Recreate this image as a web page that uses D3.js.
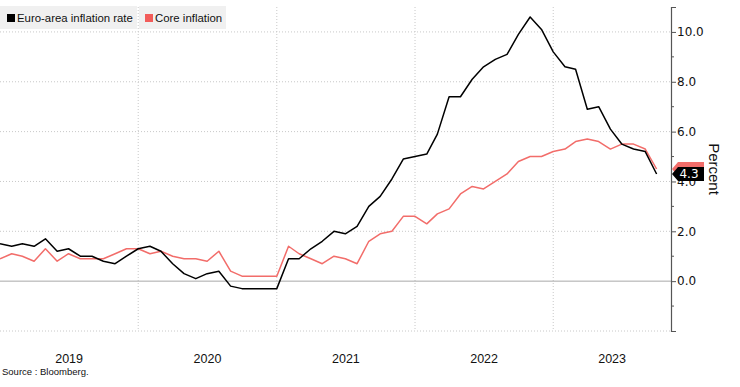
<!DOCTYPE html>
<html>
<head>
<meta charset="utf-8">
<script src="https://cdn.jsdelivr.net/npm/d3@7"></script>
<style>
  body { margin: 0; background: #fff; }
  svg { display: block; }
</style>
</head>
<body>
<div id="chart"></div>
<script>
// monthly readings, Dec 2018 .. Sep 2023
const startYear = 2018;
const startMonth = 11; // December (0-based)
const headline = [
  1.5,
  1.4, 1.5, 1.4, 1.7, 1.2, 1.3, 1.0, 1.0, 0.8, 0.7, 1.0, 1.3,
  1.4, 1.2, 0.7, 0.3, 0.1, 0.3, 0.4, -0.2, -0.3, -0.3, -0.3, -0.3,
  0.9, 0.9, 1.3, 1.6, 2.0, 1.9, 2.2, 3.0, 3.4, 4.1, 4.9, 5.0,
  5.1, 5.9, 7.4, 7.4, 8.1, 8.6, 8.9, 9.1, 9.9, 10.6, 10.1, 9.2,
  8.6, 8.5, 6.9, 7.0, 6.1, 5.5, 5.3, 5.2, 4.3
];
const core = [
  0.9,
  1.1, 1.0, 0.8, 1.3, 0.8, 1.1, 0.9, 0.9, 0.9, 1.1, 1.3, 1.3,
  1.1, 1.2, 1.0, 0.9, 0.9, 0.8, 1.2, 0.4, 0.2, 0.2, 0.2, 0.2,
  1.4, 1.1, 0.9, 0.7, 1.0, 0.9, 0.7, 1.6, 1.9, 2.0, 2.6, 2.6,
  2.3, 2.7, 2.9, 3.5, 3.8, 3.7, 4.0, 4.3, 4.8, 5.0, 5.0, 5.2,
  5.3, 5.6, 5.7, 5.6, 5.3, 5.5, 5.5, 5.3, 4.5
];
const years = [2019, 2020, 2021, 2022, 2023];
const yTicks = [-2, 0, 2, 4, 6, 8, 10];
const yMinor = [-1, 1, 3, 5, 7, 9];
const seriesNames = ['Euro-area inflation rate', 'Core inflation'];
const colors = ['#000000', '#f26d6a'];

const width = 740, height = 387;
const plotLeft = 0, plotRight = 671, plotTop = 7, plotBottom = 331;

const svg = d3.select('#chart').append('svg')
  .attr('width', width)
  .attr('height', height);

// each reading sits at the end of its month
const dateOf = i => new Date(startYear, startMonth + i + 1, 1);

const x = d3.scaleTime()
  .domain([new Date(2019, 0, 1), new Date(2023, 10, 8)])
  .range([plotLeft, plotRight]);

const y = d3.scaleLinear()
  .domain([-2, 11])
  .range([plotBottom, plotTop]);

// grid
const grid = svg.append('g');
grid.selectAll('line.h')
  .data(yTicks.filter(v => v !== 0))
  .enter().append('line')
  .attr('x1', plotLeft).attr('x2', plotRight)
  .attr('y1', d => y(d)).attr('y2', d => y(d))
  .attr('stroke', '#c8c8c8')
  .attr('stroke-dasharray', '1,2');

grid.selectAll('line.v')
  .data(years.slice(1))
  .enter().append('line')
  .attr('x1', d => x(new Date(d, 0, 1))).attr('x2', d => x(new Date(d, 0, 1)))
  .attr('y1', plotTop).attr('y2', plotBottom)
  .attr('stroke', '#c8c8c8')
  .attr('stroke-dasharray', '1,2');

grid.append('line')
  .attr('x1', plotLeft).attr('x2', plotRight)
  .attr('y1', y(0)).attr('y2', y(0))
  .attr('stroke', '#a8a8a8')
  .attr('stroke-width', 1);

// lines
const line = d3.line()
  .x((d, i) => x(dateOf(i)))
  .y(d => y(d));

[core, headline].forEach((s, k) => {
  svg.append('path')
    .datum(s)
    .attr('fill', 'none')
    .attr('stroke', k === 0 ? colors[1] : colors[0])
    .attr('stroke-width', 1.5)
    .attr('stroke-linejoin', 'round')
    .attr('d', line);
});

// right axis
const axis = d3.axisRight(y)
  .tickValues(yTicks)
  .tickSize(5)
  .tickFormat(d => d >= 0 ? d3.format('.1f')(d) : '');

const ax = svg.append('g')
  .attr('transform', `translate(${plotRight},0)`)
  .call(axis);
ax.select('.domain').attr('stroke', '#555').attr('stroke-width', 1.2);
ax.selectAll('.tick line').attr('stroke', '#555');
ax.selectAll('.tick text')
  .attr('x', 6)
  .attr('fill', '#111')
  .attr('font-family', 'DejaVu Sans, sans-serif')
  .attr('font-size', 12);

ax.selectAll('line.minor')
  .data(yMinor)
  .enter().append('line')
  .attr('x1', 0).attr('x2', 3)
  .attr('y1', d => y(d)).attr('y2', d => y(d))
  .attr('stroke', '#555');

svg.append('text')
  .attr('transform', `translate(709,${y(4.5)}) rotate(90)`)
  .attr('text-anchor', 'middle')
  .attr('font-family', 'Liberation Sans, Arial, sans-serif')
  .attr('font-size', 15)
  .attr('fill', '#111')
  .text('Percent');

// last value tags (the core tag sits behind, only its edge shows)
const lastTags = [
  { v: core[core.length - 1], c: colors[1], label: false },
  { v: headline[headline.length - 1], c: colors[0], label: true }
];
lastTags.forEach(t => {
  const cy = y(t.v);
  svg.append('path')
    .attr('d', `M${plotRight + 1},${cy} L${plotRight + 7},${cy - 7} L${704},${cy - 7} L${704},${cy + 7} L${plotRight + 7},${cy + 7} Z`)
    .attr('fill', t.c);
  if (t.label) {
    svg.append('text')
      .attr('x', 689)
      .attr('y', cy)
      .attr('dy', '0.36em')
      .attr('text-anchor', 'middle')
      .attr('font-family', 'DejaVu Sans, sans-serif')
      .attr('font-size', 12)
      .attr('fill', '#fff')
      .text(t.v.toFixed(1));
  }
});

// year labels, centred on the visible part of each year
svg.append('g')
  .selectAll('text')
  .data(years)
  .enter().append('text')
  .attr('x', d => {
    const a = Math.max(x(new Date(d, 0, 1)), plotLeft);
    const b = Math.min(x(new Date(d + 1, 0, 1)), plotRight);
    return (a + b) / 2;
  })
  .attr('y', 363)
  .attr('text-anchor', 'middle')
  .attr('font-family', 'Liberation Sans, Arial, sans-serif')
  .attr('font-size', 12.5)
  .attr('fill', '#111')
  .text(d => d);

// legend
const legend = svg.append('g');
const legendBoxes = [{ x: 0, w: 137 }, { x: 139, w: 87 }];
legend.selectAll('rect.bg')
  .data(legendBoxes)
  .enter().append('rect')
  .attr('x', d => d.x).attr('y', 6)
  .attr('width', d => d.w).attr('height', 23)
  .attr('fill', '#f0f0f0');

legend.selectAll('rect.sw')
  .data(seriesNames)
  .enter().append('rect')
  .attr('x', (d, i) => legendBoxes[i].x + (i === 0 ? 7 : 6))
  .attr('y', 14)
  .attr('width', 8).attr('height', 8)
  .attr('fill', (d, i) => i === 0 ? '#000' : '#f25c5a');

legend.selectAll('text')
  .data(seriesNames)
  .enter().append('text')
  .attr('x', (d, i) => legendBoxes[i].x + (i === 0 ? 17 : 16))
  .attr('y', 22)
  .attr('font-family', 'Liberation Sans, Arial, sans-serif')
  .attr('font-size', 11.4)
  .attr('fill', '#111')
  .text(d => d);

// source
svg.append('text')
  .attr('x', 2)
  .attr('y', 375)
  .attr('font-family', 'Liberation Sans, Arial, sans-serif')
  .attr('font-size', 9.5)
  .attr('fill', '#111')
  .text('Source : Bloomberg.');
</script>
</body>
</html>
